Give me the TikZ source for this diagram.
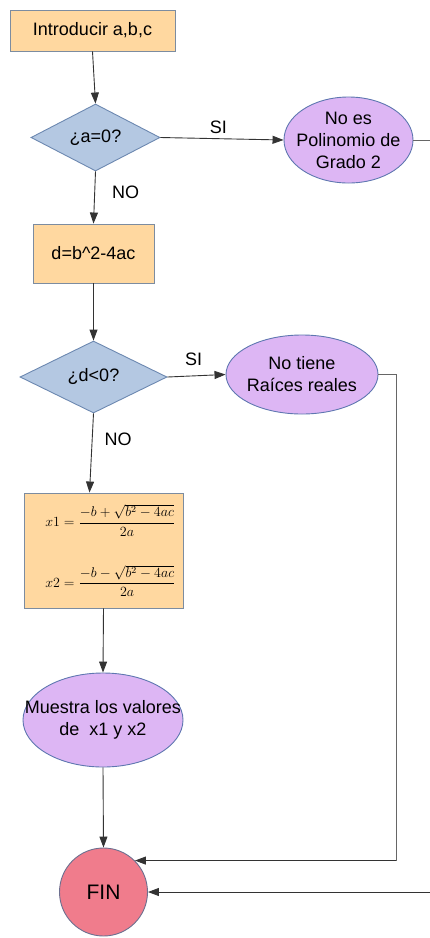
\documentclass[tikz,border=0pt]{standalone}
\usepackage{graphicx}
\usepackage[no-math]{fontspec}
\setmainfont{Liberation Sans}
\usetikzlibrary{shapes.geometric,arrows.meta,calc}
\definecolor{boxfill}{HTML}{FFD8A0}
\definecolor{boxline}{HTML}{7C8CA0}
\definecolor{decfill}{HTML}{B4C8E2}
\definecolor{decline}{HTML}{6C88B0}
\definecolor{ellfill}{HTML}{DDB6F4}
\definecolor{ellline}{HTML}{5E77B0}
\definecolor{finfill}{HTML}{F07C8C}
\definecolor{finline}{HTML}{6C7090}
\definecolor{conn}{HTML}{333333}
\definecolor{loopc}{HTML}{666666}
\begin{document}
\begin{tikzpicture}[x=1pt,y=-1pt,
  every node/.style={font=\fontsize{18}{22}\selectfont, text=black},
  procbox/.style={rectangle, draw=boxline, fill=boxfill, line width=0.9pt, inner sep=2pt},
  decision/.style={diamond, aspect=2, draw=decline, fill=decfill, line width=0.9pt, inner sep=1pt},
  ellip/.style={ellipse, draw=ellline, fill=ellfill, line width=0.9pt, inner sep=-30pt, align=center},
  finnode/.style={circle, draw=finline, fill=finfill, line width=0.9pt, inner sep=0pt, font=\fontsize{21}{25}\selectfont},
  arr/.style={draw=conn, line width=0.9pt, -{Triangle[length=11pt,width=8pt]}},
  plainline/.style={draw=loopc, line width=0.9pt},
  lbl/.style={inner sep=2pt}]
\useasboundingbox (0,0) rectangle (430,938);

\node[procbox, minimum width=165pt, minimum height=41pt] (in) at (92.5,30.5) {Introducir a,b,c};
\node[decision, minimum width=129pt, minimum height=67pt] (q1) at (95.5,137.5) {¿a=0?};
\node[ellip, minimum width=129pt, minimum height=86pt] (e1) at (348.5,140) {No es\\Polinomio de\\Grado 2};
\node[procbox, minimum width=121pt, minimum height=59pt] (calc) at (93.5,253.5) {d=b\textasciicircum 2-4ac};
\node[decision, minimum width=147pt, minimum height=72pt] (q2) at (93.5,377) {¿d<0?};
\node[ellip, minimum width=152pt, minimum height=79pt] (e2) at (302,374.5) {No tiene\\Raíces reales};
\node[procbox, minimum width=159pt, minimum height=115pt, align=left, font=\fontsize{12}{14}\selectfont] (form) at (103.5,550.5)
  {\hspace*{14pt}\scalebox{1.17}{$\displaystyle x1=\frac{-b+\sqrt{b^2-4ac}}{2a}$}\\[28pt]\hspace*{14pt}\scalebox{1.17}{$\displaystyle x2=\frac{-b-\sqrt{b^2-4ac}}{2a}$}};
\node[ellip, minimum width=160pt, minimum height=94pt] (show) at (103,720) {Muestra los valores\\de\ \ x1 y x2};
\node[finnode, minimum size=88pt] (fin) at (103.5,892) {FIN};

\coordinate (r1) at (430,140);
\coordinate (rx) at (396,0);
\coordinate (r2) at (430,0);

\draw[arr] (in.south) -- (q1.north);
\draw[arr] (q1.east) -- (e1.west) node[lbl, pos=0.47, above=3pt] {SI};
\draw[plainline] (e1.east) -- (r1);
\draw[arr] (q1.south) -- (calc.north) node[lbl, pos=0.4, right=15pt] {NO};
\draw[arr] (calc.south) -- (q2.north);
\draw[arr] (q2.east) -- (e2.west) node[lbl, pos=0.45, above=8pt] {SI};
\draw[arr] (q2.south) -- ([xshift=-14pt]form.north) node[lbl, pos=0.33, right=10pt] {NO};
\draw[arr] (form.south) -- (show.north);
\draw[arr] (show.south) -- (fin.north);
\draw[plainline] (e2.east) -| (rx |- fin.north east);
\draw[arr] (rx |- fin.north east) -- (fin.north east);
\draw[arr] (r2 |- fin.east) -- (fin.east);
\end{tikzpicture}
\end{document}
